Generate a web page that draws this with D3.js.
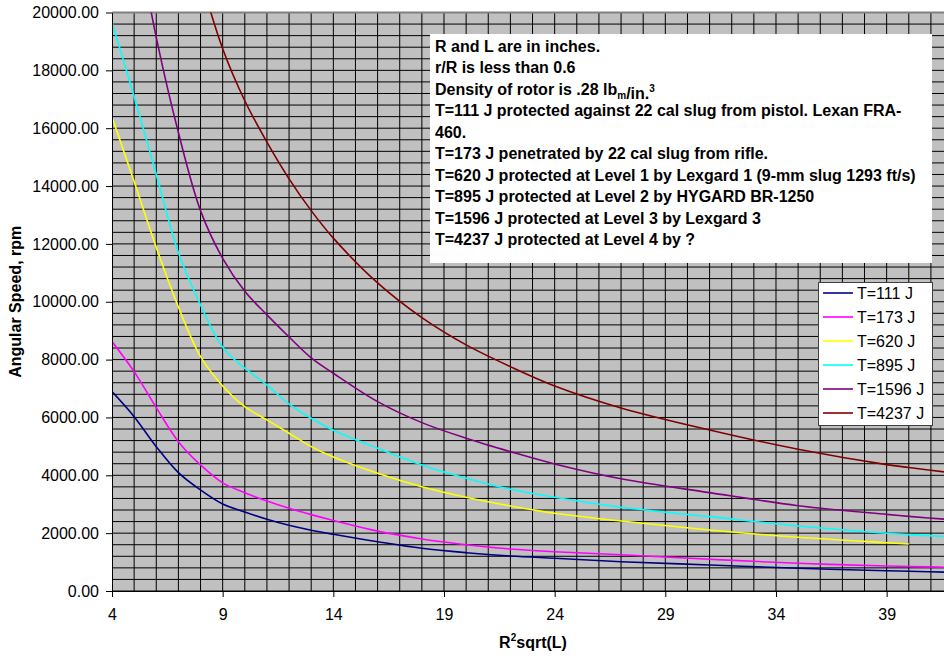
<!DOCTYPE html>
<html>
<head>
<meta charset="utf-8">
<script src="https://cdn.jsdelivr.net/npm/d3@7"></script>
<style>
  html, body { margin: 0; padding: 0; background: #fff; }
  svg { display: block; font-family: Arial, "Liberation Sans", sans-serif; }
</style>
</head>
<body>
<svg id="chart" width="944" height="658"></svg>
<script>
// ---- data ----
const xValues = [4,5,6,7,8,9,10,11,12,13,14,16,18,20,22,24,27,31,35,39,40,42];
const t111  = [6893,6028,4991,4092,3493,3009,2730,2480,2270,2100,1960,1705,1477,1325,1210,1130,1013,899,785,702,685,645];
const t173  = [8622,7584,6340,5164,4358,3740,3400,3110,2860,2640,2440,2070,1800,1600,1450,1355,1255,1096,958,865,848,815];
const t620  = [16383,14156,11880,9820,8103,7090,6374,5914,5454,4991,4630,4071,3607,3241,2940,2687,2421,2110,1857,1670,1625,null];
const t895  = [19655,17096,14400,11700,9891,8430,7702,7125,6460,5973,5560,4935,4358,3898,3517,3241,2895,2570,2248,1995,1950,1870];
const t1596 = [27500,23200,19140,15850,13150,11500,10360,9545,8780,8060,7529,6547,5821,5281,4818,4392,3880,3400,2950,2650,2580,2460];
const t4237 = [40000,32500,27500,24000,21200,18750,16950,15520,14250,13150,12200,10650,9450,8508,7757,7090,6330,5568,4901,4370,4270,4080];

const seriesNames  = ["T=111 J","T=173 J","T=620 J","T=895 J","T=1596 J","T=4237 J"];
const seriesValues = [t111, t173, t620, t895, t1596, t4237];
const seriesColors = ["#000080","#FF00FF","#FFFF00","#00FFFF","#800080","#800000"];

const yTickValues = [0,2000,4000,6000,8000,10000,12000,14000,16000,18000,20000];
const xTickValues = [4,9,14,19,24,29,34,39];

const noteLines = [
  ["R and L are in inches."],
  ["r/R is less than 0.6"],
  ["Density of rotor is .28 lb", {sub:"m"}, "/in.", {sup:"3"}],
  ["T=111 J protected against 22 cal slug from pistol. Lexan FRA-"],
  ["460."],
  ["T=173 J penetrated by 22 cal slug from rifle."],
  ["T=620 J protected at Level 1 by Lexgard 1 (9-mm slug 1293 ft/s)"],
  ["T=895 J protected at Level 2 by HYGARD BR-1250"],
  ["T=1596 J protected at Level 3 by Lexgard 3"],
  ["T=4237 J protected at Level 4 by ?"]
];

// ---- layout ----
const W = 944, H = 658;
const plot = {left: 112, top: 12.5, right: 944, bottom: 591};
const svg = d3.select("#chart");

const x = d3.scaleLinear().domain([4, 42]).range([112, 112 + 38 * 22.133]);
const y = d3.scaleLinear().domain([0, 20000]).range([plot.bottom, plot.top]);

// plot background
svg.append("rect")
  .attr("x", plot.left).attr("y", plot.top)
  .attr("width", plot.right - plot.left).attr("height", plot.bottom - plot.top)
  .attr("fill", "#C0C0C0");

// grid lines
const grid = svg.append("g").attr("stroke", "#000").attr("stroke-width", 1);
d3.range(0, 20001, 400).forEach(v => {
  grid.append("line").attr("x1", plot.left).attr("x2", plot.right)
    .attr("y1", y(v)).attr("y2", y(v));
});
d3.range(5, 43, 1).forEach(v => {
  if (x(v) <= plot.right) {
    grid.append("line").attr("x1", x(v)).attr("x2", x(v))
      .attr("y1", plot.top).attr("y2", plot.bottom);
  }
});
// top border
svg.append("line").attr("x1", plot.left).attr("x2", plot.right)
  .attr("y1", plot.top).attr("y2", plot.top)
  .attr("stroke", "#808080").attr("stroke-width", 2);

// annotation box
const note = svg.append("g");
note.append("rect").attr("x", 430).attr("y", 34).attr("width", 502).attr("height", 229).attr("fill", "#fff");
noteLines.forEach((parts, i) => {
  const t = note.append("text")
    .attr("x", 435).attr("y", 51.5 + i * 21.5)
    .attr("font-size", 16).attr("font-weight", "bold").attr("fill", "#000");
  parts.forEach(p => {
    if (typeof p === "string") {
      t.append("tspan").text(p);
    } else if (p.sub) {
      t.append("tspan").attr("font-size", 10).attr("dy", 4).text(p.sub);
      t.append("tspan").attr("dy", -4).text("");
    } else if (p.sup) {
      t.append("tspan").attr("font-size", 10).attr("dy", -7).text(p.sup);
    }
  });
});

// series
const clip = svg.append("clipPath").attr("id", "plotclip");
clip.append("rect").attr("x", plot.left).attr("y", plot.top)
  .attr("width", plot.right - plot.left).attr("height", plot.bottom - plot.top);

const line = d3.line()
  .defined(d => d[1] != null)
  .x(d => x(d[0])).y(d => y(d[1]))
  .curve(d3.curveCatmullRom.alpha(0.5));

const lines = svg.append("g").attr("clip-path", "url(#plotclip)");
seriesValues.forEach((vals, i) => {
  const pts = xValues.map((xv, j) => [xv, vals[j]]).filter(d => d[1] != null);
  lines.append("path")
    .attr("d", line(pts))
    .attr("fill", "none")
    .attr("stroke", seriesColors[i])
    .attr("stroke-width", 1.6);
});

// axes
const yAxis = d3.axisLeft(y).tickValues(yTickValues).tickFormat(d3.format(".2f"))
  .tickSize(6).tickSizeOuter(0).tickPadding(7);
const gy = svg.append("g").attr("transform", `translate(${plot.left},0)`).call(yAxis);
gy.selectAll("text").attr("font-size", 16).attr("font-family", "Arial, 'Liberation Sans', sans-serif").attr("fill", "#000");
gy.select(".domain").attr("stroke", "#000");

const xAxis = d3.axisBottom(x).tickValues(xTickValues).tickFormat(d3.format("d"))
  .tickSize(6).tickSizeOuter(0).tickPadding(12);
const gx = svg.append("g").attr("transform", `translate(0,${plot.bottom})`).call(xAxis);
gx.selectAll("text").attr("font-size", 16).attr("font-family", "Arial, 'Liberation Sans', sans-serif").attr("fill", "#000");
gx.select(".domain").attr("stroke", "#000");

// axis titles
svg.append("text")
  .attr("transform", `translate(21,${(plot.top + plot.bottom) / 2}) rotate(-90)`)
  .attr("text-anchor", "middle").attr("font-size", 16).attr("font-weight", "bold")
  .text("Angular Speed, rpm");

const xt = svg.append("text")
  .attr("x", 533).attr("y", 648)
  .attr("text-anchor", "middle").attr("font-size", 16).attr("font-weight", "bold");
xt.append("tspan").text("R");
xt.append("tspan").attr("font-size", 10).attr("dy", -7).text("2");
xt.append("tspan").attr("dy", 7).text("sqrt(L)");

// legend
const lg = svg.append("g");
const lgX = 818, lgY = 282, lgW = 114, lgH = 143;
lg.append("rect").attr("x", lgX + 0.5).attr("y", lgY + 0.5).attr("width", lgW).attr("height", lgH)
  .attr("fill", "#fff").attr("stroke", "#404040").attr("stroke-width", 1);
seriesNames.forEach((name, i) => {
  const cy = 293 + i * 24;
  lg.append("line").attr("x1", 823).attr("x2", 853).attr("y1", cy).attr("y2", cy)
    .attr("stroke", seriesColors[i]).attr("stroke-width", 1.6);
  lg.append("text").attr("x", 857).attr("y", cy).attr("dy", "0.36em")
    .attr("font-size", 16).text(name);
});
</script>
</body>
</html>
